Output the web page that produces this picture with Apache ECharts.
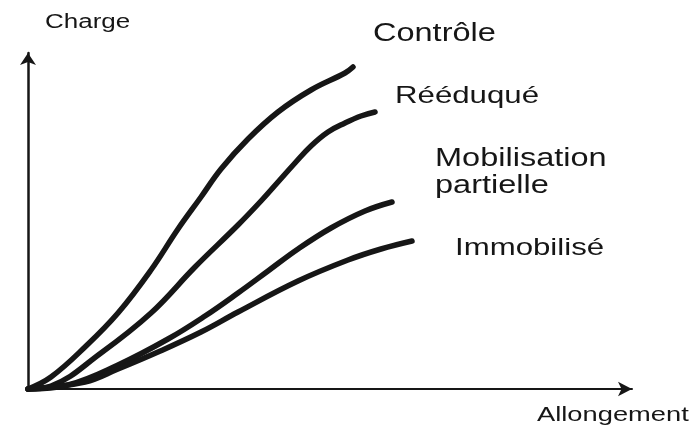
<!DOCTYPE html>
<html>
<head>
<meta charset="utf-8">
<title>Charge – Allongement</title>
<script src="https://cdn.jsdelivr.net/npm/echarts@6/dist/echarts.min.js"></script>
<style>
  html, body { margin: 0; padding: 0; background: #ffffff; }
  #chart { width: 694px; height: 431px; }
</style>
</head>
<body>
<div id="chart"></div>
<script>
// Load–elongation curves, [allongement, charge] pairs (arbitrary units)
const controle = [[0,0],[23,12],[57,42],[90,76],[123,119],[150,160],[173,192],[193,220],[220,250],[250,277],[283,299],[317,316],[325,322]];
const reeduque = [[0,0],[23,3],[73,36],[123,76],[167,122],[210,164],[233,188],[250,207],[267,226],[283,243],[300,257],[317,266],[333,273],[347,277]];
const mobilisation = [[0,0],[40,4],[90,24],[140,50],[177,73],[210,96],[240,118],[270,140],[303,161],[337,178],[364,187]];
const immobilise = [[0,0],[57,7],[90,20],[130,37],[173,57],[210,77],[270,108],[320,129],[353,140],[384,148]];

const seriesNames = ['Contrôle', 'Rééduqué', 'Mobilisation partielle', 'Immobilisé'];
const axisTitles = { y: 'Charge', x: 'Allongement' };

// Curve captions: text lines and where each sits
const captions = [
  { text: 'Contrôle', x: 373, y: 34, size: 25 },
  { text: 'Rééduqué', x: 395, y: 96, size: 24 },
  { text: 'Mobilisation', x: 435, y: 159, size: 25 },
  { text: 'partielle', x: 435, y: 186, size: 25 },
  { text: 'Immobilisé', x: 455, y: 248, size: 24 }
];

const ink = '#161616';
const FONT = '"Liberation Sans", Arial, Helvetica, sans-serif';

const chart = echarts.init(document.getElementById('chart'), null, { renderer: 'canvas' });

function curve(name, data) {
  return {
    name: name,
    type: 'line',
    data: data,
    smooth: 0.4,
    showSymbol: false,
    clip: false,
    lineStyle: { color: ink, width: 5.5, cap: 'round', join: 'round' },
    emphasis: { disabled: true }
  };
}

function caption(c) {
  return {
    type: 'text',
    x: c.x,
    y: c.y,
    scaleX: 1.3,
    style: {
      text: c.text,
      font: c.size + 'px ' + FONT,
      fill: ink,
      align: 'left',
      verticalAlign: 'middle'
    }
  };
}

const option = {
  backgroundColor: '#ffffff',
  animation: false,
  grid: { left: 28, right: 62, top: 53, bottom: 42 },
  xAxis: {
    type: 'value',
    min: 0,
    max: 604,
    axisLine: {
      show: true,
      lineStyle: { color: ink, width: 2 },
      symbol: ['none', 'arrow'],
      symbolSize: [11, 14]
    },
    axisTick: { show: false },
    axisLabel: { show: false },
    splitLine: { show: false }
  },
  yAxis: {
    type: 'value',
    min: 0,
    max: 336,
    axisLine: {
      show: true,
      lineStyle: { color: ink, width: 2.5 },
      symbol: ['none', 'arrow'],
      symbolSize: [12, 12]
    },
    axisTick: { show: false },
    axisLabel: { show: false },
    splitLine: { show: false }
  },
  series: [
    curve(seriesNames[0], controle),
    curve(seriesNames[1], reeduque),
    curve(seriesNames[2], mobilisation),
    curve(seriesNames[3], immobilise)
  ],
  graphic: [
    caption({ text: axisTitles.y, x: 45, y: 22, size: 20 }),
    caption({ text: axisTitles.x, x: 537, y: 415, size: 21 })
  ].concat(captions.map(caption))
};

chart.setOption(option);
</script>
</body>
</html>
